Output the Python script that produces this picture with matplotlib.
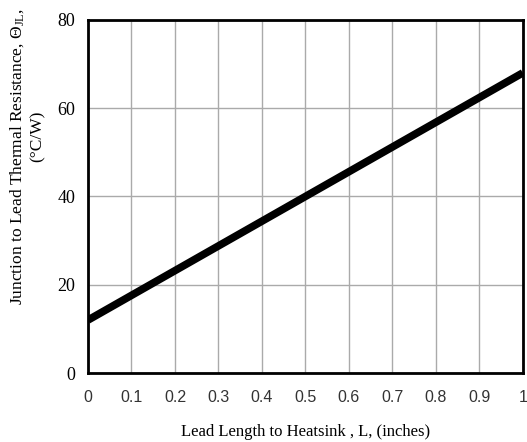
import matplotlib
matplotlib.use("Agg")
import matplotlib.pyplot as plt

plt.rcParams["mathtext.fontset"] = "custom"
plt.rcParams["mathtext.rm"] = "Liberation Serif"
plt.rcParams["mathtext.it"] = "Liberation Serif:italic"

lead_length = [0.0, 1.0]
theta_jl = [12.0, 68.0]
x_ticks = [0, 0.1, 0.2, 0.3, 0.4, 0.5, 0.6, 0.7, 0.8, 0.9, 1]
x_labels = ["0", "0.1", "0.2", "0.3", "0.4", "0.5", "0.6", "0.7", "0.8", "0.9", "1"]
y_ticks = [0, 20, 40, 60, 80]

fig = plt.figure(figsize=(5.27, 4.42), dpi=100)
ax = fig.add_axes([0.167, 0.156, 0.825, 0.799])

ax.plot(lead_length, theta_jl, color="black", lw=5.5, solid_capstyle="butt", zorder=3)

ax.set_xlim(0, 1)
ax.set_ylim(0, 80)
ax.set_xticks(x_ticks)
ax.set_xticklabels(x_labels, family="Liberation Sans", fontsize=11.5, color="#333")
ax.set_yticks(y_ticks)
ax.set_yticklabels([str(v) for v in y_ticks], family="Liberation Serif", fontsize=13)
ax.tick_params(length=0, pad=9)
ax.tick_params(axis="x", pad=12)
ax.grid(True, color="#aaaaaa", lw=1.0)
ax.set_axisbelow(True)
for sp in ax.spines.values():
    sp.set_linewidth(2.0)

ax.set_xlabel("Lead Length to Heatsink , L, (inches)", family="Liberation Serif",
              fontsize=12, labelpad=14)

# two-line y label, placed like the original
fig.text(0.032, 0.645, "Junction to Lead Thermal Resistance, $\\mathrm{\\Theta_{JL}}$,",
         rotation=90, ha="center", va="center", family="Liberation Serif", fontsize=12.5)
fig.text(0.072, 0.692, "(°C/W)", rotation=90, ha="center", va="center",
         family="Liberation Serif", fontsize=12.5)

fig.savefig("out.png", dpi=100)
